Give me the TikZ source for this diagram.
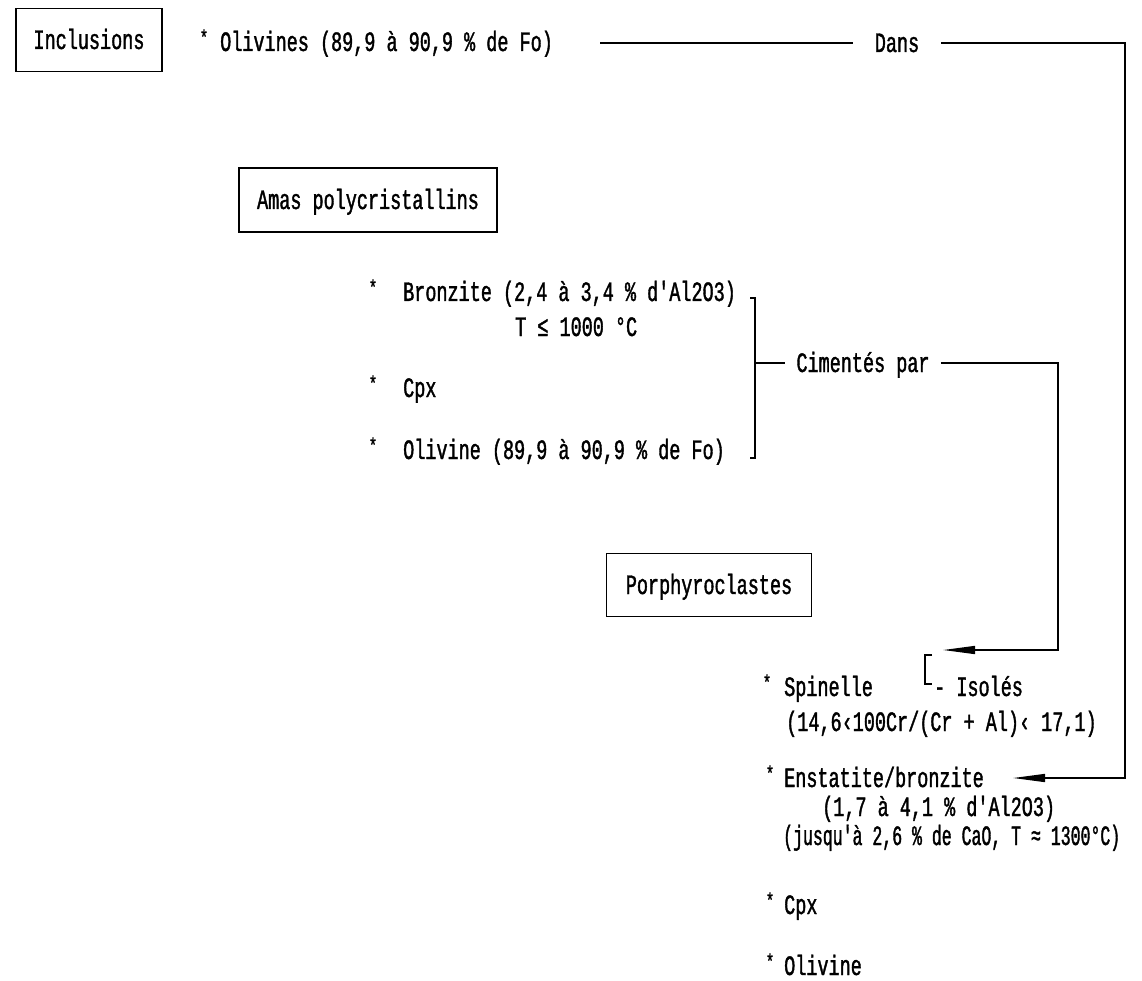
\documentclass[tikz,border=0pt]{standalone}
\usepackage{fontspec}
\usepackage{tikz}
\usetikzlibrary{arrows.meta,positioning}
\newfontfamily\typo[FakeStretch=0.66,FakeBold=1.3]{Liberation Mono}
\newfontfamily\typonarrow[FakeStretch=0.59,FakeBold=1.3]{Liberation Mono}
\newcommand{\typesize}{\fontsize{28}{30}\selectfont}

\begin{document}
\begin{tikzpicture}[x=1pt,y=-1pt,
    every node/.style={font=\typo\typesize, inner sep=0pt},
    txt/.style={anchor=west, text height=18pt, text depth=0pt},
    gap/.style={text height=18pt, text depth=0pt},
    star/.style={font=\typo\fontsize{21}{21}\selectfont},
    titlebox/.style={draw, line width=1.8pt, text height=18pt, text depth=0pt},
    conn/.style={line width=1.5pt},
    arr/.style={conn, -{Triangle[length=32pt,width=8pt]}}]
    \path[use as bounding box, fill=white] (0,0) rectangle (1142,981);

    % Inclusions
    \node[titlebox, minimum width=146pt, minimum height=63pt] (incl) at (89,40) {Inclusions};
    \node[star] (s0) at (204,37) {*};
    \node[txt] (olv) at (220,42) {Olivines (89,9 à 90,9 \% de Fo)};
    \node[gap, inner xsep=22pt] (dans) at (897,43) {Dans};
    \coordinate (dansL) at (600,43);
    \coordinate (dansR) at (1125,43);
    \coordinate (dansD) at (1125,778);
    \coordinate (enstTip) at (1013,778);
    \draw[conn] (dansL) -- (dans.west);
    \draw[arr] (dans.east) -- (dansR) -- (dansD) -- (enstTip);

    % Amas polycristallins
    \node[titlebox, minimum width=258pt, minimum height=64pt] (amas) at (368,200) {Amas polycristallins};
    \node[star] (s1) at (373,287) {*};
    \node[txt] (bronz) at (403,292) {Bronzite (2,4 à 3,4 \% d'Al2O3)};
    \node[txt] (tbronz) at (515,327) {T ≤ 1000 °C};
    \node[star] (s2) at (373,383) {*};
    \node[txt] (cpx1) at (403,388) {Cpx};
    \node[star] (s3) at (373,445) {*};
    \node[txt] (oliv1) at (403,450) {Olivine (89,9 à 90,9 \% de Fo)};

    % Bracket and Cimentes par
    \coordinate (brT) at (755,298);
    \coordinate (brB) at (755,458);
    \coordinate (brM) at (755,363);
    \draw[conn] ([xshift=-5pt]brT) -- (brT) -- (brB) -- ([xshift=-5pt]brB);
    \node[gap, inner xsep=11pt] (cim) at (863,363) {Cimentés par};
    \draw[conn] (brM) -- (cim.west);
    \coordinate (cimR) at (1058,363);
    \coordinate (cimD) at (1058,650);
    \coordinate (isoTip) at (943,650);
    \draw[arr] (cim.east) -- (cimR) -- (cimD) -- (isoTip);

    % Porphyroclastes
    \node[titlebox, minimum width=205pt, minimum height=63pt] (porph) at (709,585) {Porphyroclastes};
    \coordinate (isoT) at (925,655);
    \coordinate (isoB) at (925,684);
    \draw[conn] ([xshift=7pt]isoT) -- (isoT) -- (isoB) -- ([xshift=7pt]isoB);
    \node[txt] (iso) at (934,687) {- Isolés};

    \node[star] (s4) at (767,682) {*};
    \node[txt] (spin) at (784,687) {Spinelle};
    \node[txt] (spinR) at (786,722) {(14,6‹100Cr/(Cr + Al)‹ 17,1)};
    \node[star] (s5) at (770,773) {*};
    \node[txt] (enst) at (784,778) {Enstatite/bronzite};
    \node[txt] (enstA) at (822,807) {(1,7 à 4,1 \% d'Al2O3)};
    \node[txt, font=\typonarrow\typesize] (enstB) at (783,836) {(jusqu'à 2,6 \% de CaO, T ≈ 1300°C)};
    \node[star] (s6) at (770,900) {*};
    \node[txt] (cpx2) at (784,905) {Cpx};
    \node[star] (s7) at (770,961) {*};
    \node[txt] (oliv2) at (784,966) {Olivine};

\end{tikzpicture}
\end{document}
